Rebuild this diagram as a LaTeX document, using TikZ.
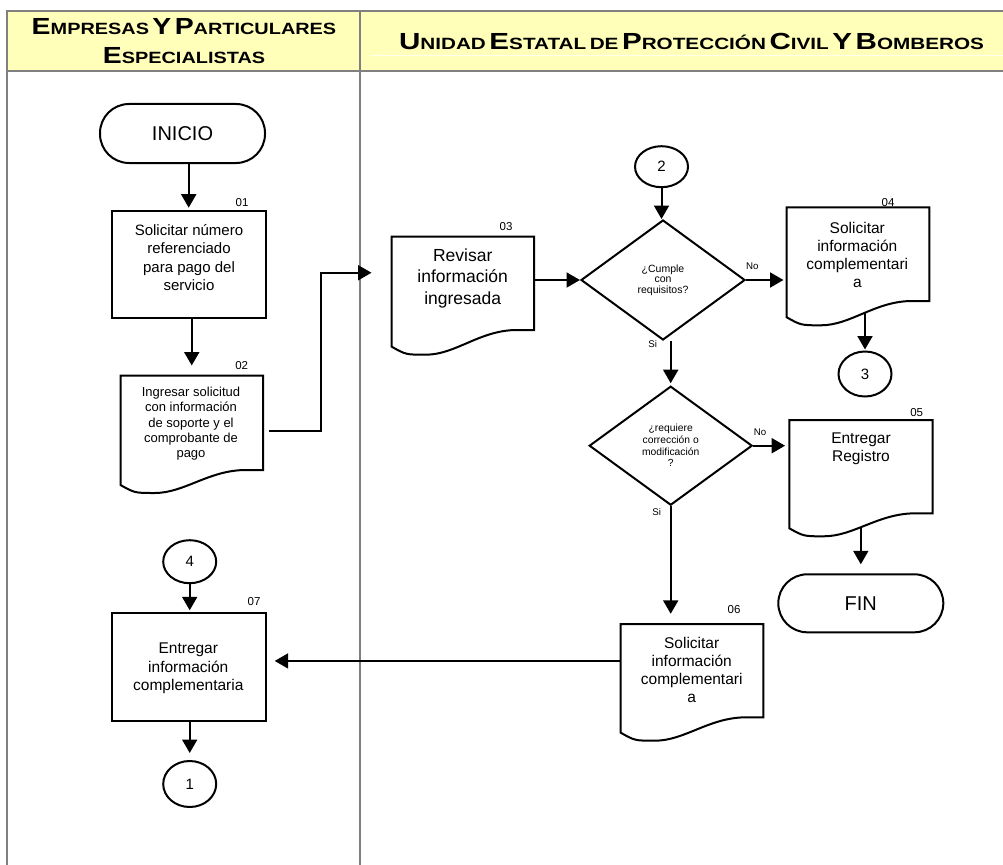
\documentclass[tikz,border=0pt]{standalone}
\usepackage{graphicx}
\usepackage{fontspec}
\setmainfont{Liberation Sans}
\usetikzlibrary{arrows.meta,shapes.geometric,calc}
\pgfdeclarelayer{bg}
\pgfsetlayers{bg,main}
\definecolor{hdr}{RGB}{255,255,185}
\definecolor{lanegray}{RGB}{128,128,128}
\newcommand\fs[2]{\fontsize{#1}{#2}\selectfont}
\newcommand\hsc[2]{{\fontsize{23.3}{24}\selectfont #1}{\fontsize{16.3}{17}\selectfont #2}}
\newcommand\docbox[6]{%
 \pgfmathsetmacro\dw{#3-#2}%
 \pgfmathsetmacro\dxa{#2+0.88*\dw}%
 \pgfmathsetmacro\dxb{#2+0.62*\dw}%
 \pgfmathsetmacro\dxc{#2+0.45*\dw}%
 \pgfmathsetmacro\dxd{#2+0.24*\dw}%
 \pgfmathsetmacro\dxe{#2+0.10*\dw}%
 \pgfmathsetmacro\dya{#6+8}%
 \pgfmathsetmacro\dcx{(#2+#3)/2}%
 \pgfmathsetmacro\dcy{(#4+#5)/2}%
 \pgfmathsetmacro\dh{#5-#4}%
 \draw[shp] (#2,#4) -- (#3,#4) -- (#3,#5) -- (\dxa,#5) .. controls (\dxb,#5) and (\dxc,\dya) .. (\dxd,\dya) .. controls (\dxe,\dya) .. (#2,#6) -- cycle;
 \node[inner sep=0pt, minimum width=\dw, minimum height=\dh] (#1) at (\dcx,\dcy) {};
}
\begin{document}
\begin{tikzpicture}[x=1pt,y=-1pt,
  shp/.style={draw=black, line width=2pt, fill=white, line join=miter},
  box/.style={shp, rectangle, inner sep=0pt},
  term/.style={shp, rectangle, rounded corners=29pt, inner sep=0pt, minimum width=165pt, minimum height=59pt, font=\fs{20}{24}},
  conn/.style={shp, ellipse, inner sep=0pt, font=\fs{15}{18}},
  dec/.style={shp, diamond, inner sep=0pt, align=center},
  txt/.style={align=center, inner sep=0pt},
  num/.style={inner sep=0pt, font=\fs{11.5}{13}},
  yn/.style={inner sep=0pt, font=\fs{9.7}{11}},
  arr/.style={line width=2pt, -{Triangle[length=13.5pt,width=15pt]}},
  lane/.style={draw=lanegray, line width=2pt},
  hd/.style={inner sep=0pt, anchor=base, font=\bfseries}
]
\useasboundingbox (0,0) rectangle (1003,864);
\clip (0,0) rectangle (1003,864);

\begin{pgfonlayer}{bg}
\fill[hdr] (7.3,11) rectangle (1012,71);
\draw[white!75!hdr, line width=1pt] (370,55.5) -- (1012,55.5);
\draw[lane] (1012,11) -- (7.3,11) -- (7.3,870);
\draw[lane] (7.3,71) -- (1012,71);
\draw[lane] (360,11) -- (360,870);
\end{pgfonlayer}

% headers
\node[hd] (h1a) at (184,35) {\scalebox{1.22}[1]{\bfseries\hsc{E}{MPRESAS} \hsc{Y}{} \hsc{P}{ARTICULARES}}};
\node[hd] (h1b) at (184,64) {\scalebox{1.22}[1]{\bfseries\hsc{E}{SPECIALISTAS}}};
\node[hd] (h2) at (691.5,49.5) {\scalebox{1.27}[1]{\bfseries\hsc{U}{NIDAD} \hsc{E}{STATAL} \hsc{}{DE} \hsc{P}{ROTECCIÓN} \hsc{C}{IVIL} \hsc{Y}{} \hsc{B}{OMBEROS}}};

% left lane
\node[term] (inicio) at (182.5,133.5) {INICIO};
\node[box, minimum width=154, minimum height=107.6] (b01) at (188.7,264.5) {};
\node[txt, font=\fs{15}{18.3}] (b01t) at (189,257.5) {Solicitar número\\referenciado\\para pago del\\servicio};
\node[num] (n01) at (242,203) {01};

\docbox{b02}{120.5}{263}{375.7}{470}{485}
\node[txt, font=\fs{13}{15.2}] (b02t) at (191,423.7) {Ingresar solicitud\\con información\\de soporte y el\\comprobante de\\pago};
\node[num] (n02) at (241.7,365.7) {02};

\node[conn, minimum width=53, minimum height=43] (c4) at (189.7,561.7) {4};
\node[box, minimum width=154, minimum height=107.4] (b07) at (188.7,667) {};
\node[txt, font=\fs{15.5}{18.3}] (b07t) at (188.3,668.3) {Entregar\\información\\complementaria};
\node[num] (n07) at (254,601.7) {07};
\node[conn, minimum width=53, minimum height=46] (c1) at (189.7,784) {1};

% right lane
\node[conn, minimum width=53, minimum height=41] (c2) at (661.5,166.7) {2};
\docbox{b03}{391.7}{534}{236.7}{330}{346.7}
\node[txt, font=\fs{17.5}{21.6}] (b03t) at (462.7,278.3) {Revisar\\información\\ingresada};
\node[num] (n03) at (506,226.7) {03};

\node[dec, minimum width=164, minimum height=120, font=\fs{10.5}{10.5}] (d1) at (663,280) {¿Cumple\\con\\requisitos?};

\docbox{b04}{786.7}{929.3}{207.3}{301}{317.3}
\node[txt, font=\fs{15.5}{17.8}] (b04t) at (857.3,255) {Solicitar\\información\\complementari\\a};
\node[num] (n04) at (888,202.7) {04};
\node[conn, minimum width=53, minimum height=45] (c3) at (865,374) {3};

\node[dec, minimum width=163, minimum height=119, font=\fs{10.3}{11.7}] (d2) at (670.7,445.7) {¿requiere\\corrección o\\modificación\\?};

\docbox{b05}{789.3}{932.7}{420}{513.3}{528.3}
\node[txt, font=\fs{15.5}{18.4}] (b05t) at (861,448.5) {Entregar\\Registro};
\node[num] (n05) at (916.7,412.7) {05};
\node[term, minimum height=58] (fin) at (860.8,603.3) {FIN};

\docbox{b06}{620.7}{763.3}{624}{717.3}{732.7}
\node[txt, font=\fs{15.5}{18}] (b06t) at (691.7,670.3) {Solicitar\\información\\complementari\\a};
\node[num] (n06) at (734,610) {06};

\node[yn] (no1) at (752.3,266) {No};
\node[yn] (si1) at (652.7,344) {Si};
\node[yn] (no2) at (760,432.3) {No};
\node[yn] (si2) at (656.7,512.3) {Si};

\coordinate (p02) at ($(b02.east)+(5.3,7.8)$);
\coordinate (q03) at ($(b03.west)+(0,-10.6)$);
\coordinate (p06) at ($(b06.west)+(0,-9.7)$);

\begin{pgfonlayer}{bg}
\draw[arr, shorten >=2pt] (inicio.south -| b01.north) -- (b01.north);
\draw[arr, shorten >=10pt] (b01.south -| b02.north) -- (b02.north);
\draw[arr, shorten >=20pt] (p02) -- ++(52.4,0) |- (q03);
\draw[arr] (c2.south) -- (c2.south |- d1.north);
\draw[arr] (d1.west -| b03.east) -- (d1.west);
\draw[arr, shorten >=3pt] (d1.east) -- (d1.east -| b04.west);
\draw[arr, shorten >=1pt] (c3.north |- b04.south) -- (c3.north);
\draw[arr, shorten >=2pt] (d2.north |- d1.south) -- (d2.north);
\draw[arr, shorten >=4pt] (d2.east) -- (d2.east -| b05.west);
\draw[arr, shorten >=9pt] (fin.north |- b05.south) -- (fin.north);
\draw[arr, shorten >=10pt] (d2.south) -- (d2.south |- b06.north);
\draw[arr, shorten >=8pt] (p06) -- (p06 -| b07.east);
\draw[arr, shorten >=2pt] (c4.south) -- (c4.south |- b07.north);
\draw[arr, shorten >=7pt] (b07.south -| c1.north) -- (c1.north);
\end{pgfonlayer}
\end{tikzpicture}
\end{document}
